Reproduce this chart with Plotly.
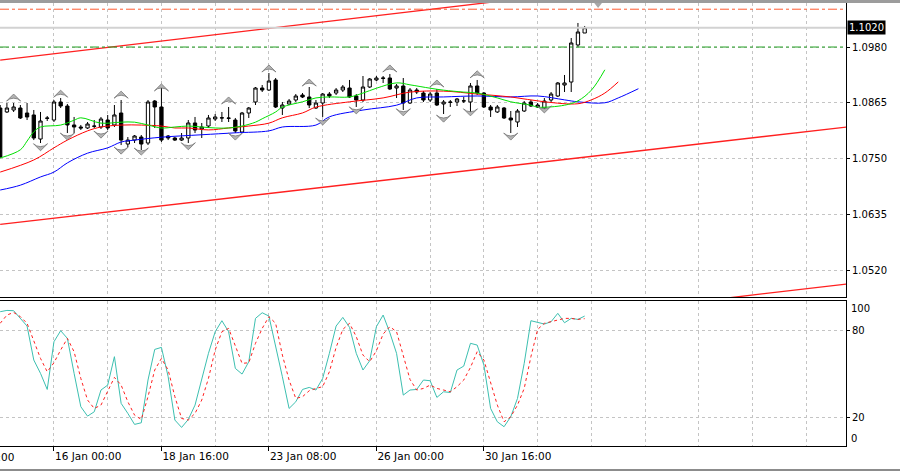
import plotly.graph_objects as go

# EURUSD H4, bar index 0 = first visible bar
opens = [1.08542, 1.08460, 1.08501, 1.08542, 1.08439, 1.08398, 1.07902, 1.08336, 1.08294, 1.08666,
         1.08583, 1.08192, 1.08150, 1.08130, 1.08171, 1.08150, 1.08294, 1.08192, 1.08439, 1.07799,
         1.07881, 1.07943, 1.07820, 1.08686, 1.08563, 1.07964, 1.07923, 1.07881, 1.07923, 1.08233,
         1.08109, 1.08171, 1.08315, 1.08336, 1.08336, 1.08294, 1.08047, 1.08439, 1.08666, 1.08954,
         1.08913, 1.09120, 1.08542, 1.08625, 1.08707, 1.08810, 1.08769, 1.08542, 1.08645, 1.08830,
         1.08851, 1.08913, 1.08954, 1.08789, 1.08707, 1.08975, 1.09120, 1.09161, 1.09161, 1.08954,
         1.08996, 1.08645, 1.08913, 1.08851, 1.08707, 1.08851, 1.08625, 1.08666, 1.08666, 1.08686,
         1.08666, 1.08996, 1.08851, 1.08563, 1.08460, 1.08542, 1.08336, 1.08253, 1.08480, 1.08666,
         1.08604, 1.08542, 1.08707, 1.08789, 1.09016, 1.09078, 1.09842, 1.10089]
highs = [1.08604, 1.08645, 1.08645, 1.08604, 1.08645, 1.08501, 1.08460, 1.08377, 1.08707, 1.08748,
         1.08625, 1.08357, 1.08192, 1.08253, 1.08294, 1.08357, 1.08398, 1.08604, 1.08707, 1.07943,
         1.07985, 1.07985, 1.08707, 1.08707, 1.08954, 1.07985, 1.07943, 1.08026, 1.08294, 1.08357,
         1.08233, 1.08398, 1.08418, 1.08460, 1.08563, 1.08336, 1.08460, 1.08563, 1.08975, 1.09016,
         1.09264, 1.09161, 1.08666, 1.08728, 1.08830, 1.08851, 1.08975, 1.08707, 1.08851, 1.08872,
         1.08954, 1.09016, 1.09120, 1.08830, 1.09202, 1.09161, 1.09202, 1.09202, 1.09243, 1.09037,
         1.09161, 1.08954, 1.08954, 1.08893, 1.08872, 1.08934, 1.08707, 1.08707, 1.08748, 1.08769,
         1.09058, 1.09120, 1.08872, 1.08604, 1.08604, 1.08563, 1.08480, 1.08521, 1.08686, 1.08707,
         1.08645, 1.08748, 1.08872, 1.09078, 1.09223, 1.09986, 1.10296, 1.10234]
lows = [1.07510, 1.08439, 1.08460, 1.08315, 1.08294, 1.07881, 1.07820, 1.08274, 1.08253, 1.08542,
        1.08026, 1.08026, 1.08088, 1.08109, 1.08130, 1.08109, 1.08088, 1.08150, 1.07778, 1.07737,
        1.07820, 1.07675, 1.07778, 1.08130, 1.07840, 1.07881, 1.07861, 1.07861, 1.07820, 1.08026,
        1.07923, 1.08130, 1.08274, 1.08253, 1.08253, 1.08026, 1.08026, 1.08336, 1.08604, 1.08872,
        1.08893, 1.08542, 1.08398, 1.08604, 1.08666, 1.08748, 1.08542, 1.08521, 1.08357, 1.08748,
        1.08810, 1.08872, 1.08748, 1.08563, 1.08666, 1.08954, 1.09099, 1.09058, 1.08913, 1.08748,
        1.08501, 1.08625, 1.08830, 1.08666, 1.08666, 1.08583, 1.08418, 1.08563, 1.08583, 1.08645,
        1.08460, 1.08810, 1.08542, 1.08357, 1.08439, 1.08315, 1.08026, 1.08150, 1.08460, 1.08563,
        1.08542, 1.08501, 1.08666, 1.08769, 1.08872, 1.08872, 1.09800, 1.10089]
closes = [1.07531, 1.08542, 1.08563, 1.08336, 1.08357, 1.07923, 1.08274, 1.08330, 1.08666, 1.08583,
          1.08192, 1.08150, 1.08130, 1.08212, 1.08165, 1.08315, 1.08130, 1.08398, 1.07881, 1.07881,
          1.07964, 1.07799, 1.08666, 1.08563, 1.07881, 1.07923, 1.07881, 1.07923, 1.08233, 1.08088,
          1.08150, 1.08336, 1.08357, 1.08340, 1.08330, 1.08068, 1.08439, 1.08542, 1.08954, 1.08913,
          1.09099, 1.08563, 1.08604, 1.08686, 1.08789, 1.08769, 1.08604, 1.08645, 1.08830, 1.08789,
          1.08913, 1.08975, 1.08769, 1.08707, 1.08975, 1.09140, 1.09161, 1.09155, 1.08934, 1.08996,
          1.08645, 1.08913, 1.08872, 1.08707, 1.08830, 1.08604, 1.08666, 1.08660, 1.08728, 1.08690,
          1.08996, 1.08851, 1.08563, 1.08501, 1.08563, 1.08336, 1.08294, 1.08480, 1.08645, 1.08583,
          1.08563, 1.08686, 1.08830, 1.09058, 1.09058, 1.09883, 1.10110, 1.10200]
bars = list(range(len(opens)))

# Alligator (shifted forward past the last bar)
jaw_x = [0, 3, 6, 8, 10, 13, 16, 18, 20, 24, 30, 35, 40, 42, 47, 49, 54, 59, 62, 66, 71, 76, 80, 84, 86, 90, 92, 95]
jaw_y = [1.0685, 1.0695, 1.0712, 1.0722, 1.0741, 1.0761, 1.0772, 1.0784, 1.0788, 1.0794, 1.0799, 1.0803, 1.0807,
         1.0815, 1.0819, 1.0836, 1.0850, 1.0860, 1.0875, 1.0877, 1.0879, 1.0877, 1.0879, 1.0871, 1.0867, 1.0865,
         1.0875, 1.0894]
teeth_x = [0, 5, 8, 10, 13, 15, 18, 21, 24, 26, 28, 31, 34, 37, 40, 42, 45, 47, 52, 57, 61, 66, 71, 76, 81, 86, 88, 90, 92]
teeth_y = [1.0722, 1.0747, 1.0772, 1.0788, 1.0807, 1.0815, 1.0819, 1.0819, 1.0817, 1.0813, 1.0813, 1.0809, 1.0813,
           1.0817, 1.0823, 1.0834, 1.0844, 1.0856, 1.0867, 1.0875, 1.0887, 1.0889, 1.0883, 1.0877, 1.0867, 1.0863,
           1.0871, 1.0885, 1.0908]
lips_x = [0, 3, 4, 5, 6, 9, 11, 12, 15, 18, 20, 22, 24, 26, 28, 30, 32, 34, 36, 38, 39, 41, 42, 45, 47, 49, 52, 54,
          56, 59, 61, 64, 66, 69, 71, 74, 76, 79, 80, 84, 86, 88, 90]
lips_y = [1.0751, 1.0768, 1.0786, 1.0805, 1.0815, 1.0819, 1.0829, 1.0834, 1.0823, 1.0825, 1.0825, 1.0819, 1.0813,
          1.0815, 1.0817, 1.0815, 1.0813, 1.0813, 1.0817, 1.0825, 1.0832, 1.0846, 1.0856, 1.0867, 1.0875, 1.0877,
          1.0877, 1.0885, 1.0895, 1.0906, 1.0902, 1.0895, 1.0891, 1.0887, 1.0885, 1.0875, 1.0867, 1.0860, 1.0856,
          1.0860, 1.0869, 1.0891, 1.0933]

# Fractals
frac_up_x = [2, 9, 18, 24, 34, 40, 46, 58, 65, 71]
frac_up_y = [1.0883, 1.0891, 1.0889, 1.0904, 1.0877, 1.0943, 1.0914, 1.0943, 1.0912, 1.0931]
frac_dn_x = [6, 10, 15, 18, 21, 28, 35, 48, 53, 60, 66, 70, 76, 81]
frac_dn_y = [1.0766, 1.0788, 1.0792, 1.0759, 1.0757, 1.0768, 1.0788, 1.0819, 1.0842, 1.0838, 1.0825, 1.0838,
             1.0788, 1.0844]

# Trend channel lines (bar index, price)
upper_x, upper_y = [0, 126], [1.0953, 1.1159]
lower_x, lower_y = [0, 126], [1.0614, 1.0815]
third_x, third_y = [100, 126], [1.0449, 1.0491]

bid = 1.1020
red_level = 1.1058
green_level = 1.0980

# Stochastic
stoch_main = [93.1, 94.0, 93.8, 88.5, 83.2, 59.8, 50.6, 39.5, 72.4, 80.0,
              74.7, 50.6, 27.6, 21.1, 24.1, 39.1, 42.5, 62.1, 29.9, 23.0,
              15.4, 16.5, 46.0, 67.1, 68.5, 48.3, 18.4, 13.3, 18.8, 28.7,
              46.0, 64.4, 79.3, 86.9, 79.3, 54.0, 50.1, 58.6, 88.5, 92.4,
              90.1, 70.1, 48.3, 26.4, 31.0, 39.5, 40.9, 39.1, 47.1, 64.4,
              83.2, 89.2, 82.3, 64.4, 52.9, 59.3, 82.8, 90.8, 78.6, 64.4,
              35.6, 39.1, 39.5, 46.0, 45.5, 34.0, 37.9, 37.4, 52.9, 55.6,
              71.3, 70.1, 56.3, 26.4, 17.2, 13.8, 20.7, 33.3, 57.5, 86.9,
              85.5, 84.6, 86.2, 92.0, 85.5, 88.5, 87.8, 90.1]
stoch_signal = [85.1, 90.8, 92.6, 89.7, 85.1, 73.6, 60.9, 51.7, 57.9, 66.7,
                74.7, 65.5, 47.1, 32.2, 26.4, 28.7, 37.9, 47.8, 42.5, 31.0,
                21.8, 18.8, 34.5, 52.9, 60.9, 52.9, 34.5, 19.5, 18.4, 23.0,
                32.2, 47.1, 66.7, 79.3, 81.6, 70.1, 57.5, 57.9, 71.3, 81.6,
                89.7, 85.1, 63.2, 46.0, 33.3, 34.5, 38.6, 40.2, 41.4, 51.7,
                68.5, 80.9, 85.1, 75.9, 63.2, 58.6, 66.2, 77.7, 82.8, 79.3,
                62.1, 46.4, 39.1, 40.2, 42.5, 40.2, 39.1, 37.9, 41.4, 46.0,
                54.7, 65.5, 59.8, 43.7, 28.7, 17.2, 20.7, 28.7, 40.2, 62.1,
                80.9, 85.1, 86.2, 87.4, 88.5, 88.5, 87.8, 88.3]

date_ticks = [8, 24, 40, 56, 72]
date_labels = ["16 Jan 00:00", "18 Jan 16:00", "23 Jan 08:00", "26 Jan 00:00", "30 Jan 16:00"]
cut_tick, cut_label = -8, "11 Jan 08:00"
price_ticks = [1.0520, 1.0635, 1.0750, 1.0865, 1.0980]
stoch_ticks = [20, 80]
shift_bar = 89

x_range = [-0.03, 125.9]
main_top, main_bot = 1.10708, 1.04643
grid = "#c4c4c4"
font = dict(family="DejaVu Sans", size=10, color="black")

fig = go.Figure()

fig.add_trace(go.Scatter(x=upper_x, y=upper_y, mode="lines", line=dict(color="#ff2020", width=1.3)))
fig.add_trace(go.Scatter(x=lower_x, y=lower_y, mode="lines", line=dict(color="#ff2020", width=1.3)))
fig.add_trace(go.Scatter(x=third_x, y=third_y, mode="lines", line=dict(color="#ff2020", width=1.3)))
fig.add_trace(go.Scatter(x=[x_range[0], x_range[1]], y=[bid, bid], mode="lines",
                         line=dict(color="#d2d2d2", width=2)))
fig.add_trace(go.Scatter(x=[x_range[0], x_range[1]], y=[red_level, red_level], mode="lines",
                         line=dict(color="#ff5a30", width=1, dash="dashdot")))
fig.add_trace(go.Scatter(x=[x_range[0], x_range[1]], y=[green_level, green_level], mode="lines",
                         line=dict(color="#22a022", width=1, dash="dashdot")))

fig.add_trace(go.Scatter(x=jaw_x, y=jaw_y, mode="lines", line=dict(color="#0000ff", width=1, shape="spline")))
fig.add_trace(go.Scatter(x=teeth_x, y=teeth_y, mode="lines", line=dict(color="#ff0000", width=1, shape="spline")))
fig.add_trace(go.Scatter(x=lips_x, y=lips_y, mode="lines", line=dict(color="#00e000", width=1, shape="spline")))

fig.add_trace(go.Candlestick(
    x=bars, open=opens, high=highs, low=lows, close=closes,
    increasing=dict(fillcolor="white", line=dict(color="black", width=1)),
    decreasing=dict(fillcolor="black", line=dict(color="black", width=1)),
    whiskerwidth=0, hoverinfo="skip"))

fig.add_trace(go.Scatter(x=frac_up_x, y=frac_up_y, mode="markers",
                         marker=dict(symbol="arrow-wide", size=10, color="#b4b4b4",
                                     line=dict(color="#767676", width=0.8))))
fig.add_trace(go.Scatter(x=frac_dn_x, y=frac_dn_y, mode="markers",
                         marker=dict(symbol="arrow-wide", angle=180, size=10, color="#b4b4b4",
                                     line=dict(color="#767676", width=0.8))))

# chart shift marker at the top edge
fig.add_trace(go.Scatter(x=[shift_bar], y=[main_top], mode="markers", cliponaxis=False,
                         marker=dict(symbol="triangle-down", size=10, color="#a8a8a8")))

fig.add_trace(go.Scatter(x=bars, y=stoch_main, mode="lines", xaxis="x2", yaxis="y2",
                         line=dict(color="#3cbfb0", width=1)))
fig.add_trace(go.Scatter(x=bars, y=stoch_signal, mode="lines", xaxis="x2", yaxis="y2",
                         line=dict(color="#ff2020", width=1, dash="dot")))

axis_common = dict(showline=True, linecolor="black", linewidth=1, mirror=True, zeroline=False,
                   showgrid=True, gridcolor=grid, griddash="3px,3px", gridwidth=1)

fig.update_layout(
    width=900, height=472,
    margin=dict(l=0, r=54, t=3, b=26, autoexpand=False),
    paper_bgcolor="white", plot_bgcolor="white",
    showlegend=False, hovermode=False,
    font=font,
    xaxis=dict(axis_common, range=x_range, tickvals=date_ticks, showticklabels=False, ticks="",
               anchor="y", minor=dict(tickvals=list(range(0, 127, 8)), showgrid=True, gridcolor=grid,
                                      griddash="3px,3px", ticks=""),
               rangeslider=dict(visible=False)),
    yaxis=dict(axis_common, mirror=False, domain=[0.3363, 1], range=[main_bot, main_top], side="right",
               tickvals=price_ticks, ticktext=[f"{v:.4f}" for v in price_ticks],
               ticks="outside", ticklen=3, tickcolor="black", anchor="x"),
    xaxis2=dict(axis_common, range=x_range, tickvals=date_ticks, ticktext=date_labels, anchor="y2",
                ticks="outside", ticklen=4, tickcolor="black", ticklabelposition="outside right",
                tickfont=dict(size=10.5),
                minor=dict(tickvals=list(range(0, 127, 8)), showgrid=True, gridcolor=grid,
                           griddash="3px,3px", ticks="")),
    yaxis2=dict(axis_common, mirror=False, domain=[0, 0.328], range=[0.5, 100.7], side="right",
                tickvals=stoch_ticks, ticks="outside", ticklen=3, tickcolor="black", anchor="x2"),
)

# price label of the last bid
fig.add_annotation(x=1, xref="paper", y=bid, yref="y", xanchor="left", showarrow=False,
                   text=f"{bid:.4f}", font=dict(family="DejaVu Sans", size=10, color="white"),
                   bgcolor="black", borderpad=1, xshift=1)
# stochastic 100 / 0 labels sit inside the pane
fig.add_annotation(x=1, xref="paper", y=1, yref="y2 domain", xanchor="left", yanchor="top",
                   showarrow=False, text="100", xshift=3)
fig.add_annotation(x=1, xref="paper", y=0, yref="y2 domain", xanchor="left", yanchor="bottom",
                   showarrow=False, text="0", xshift=3)
# date label cut off at the left edge
fig.add_annotation(x=(cut_tick - x_range[0]) / (x_range[1] - x_range[0]), xref="paper",
                   y=0, yref="y2 domain", yanchor="top", xanchor="left", yshift=-3,
                   showarrow=False, text=cut_label, font=dict(size=10.5))

# window frame
fig.add_shape(type="rect", xref="paper", yref="paper", x0=-0.01, x1=1.1, y0=1.0, y1=1.008,
              fillcolor="#9c9c9c", line=dict(width=0))
fig.add_shape(type="line", xref="paper", yref="paper", x0=-0.01, x1=1.1, y0=-0.054, y1=-0.054,
              line=dict(color="#8c8c8c", width=2))

# page body has a default 8px margin; drop it so the figure sits at the window corner
fig.write_html("out.html", config={"displayModeBar": False},
               post_script="document.body.style.margin='0';")
